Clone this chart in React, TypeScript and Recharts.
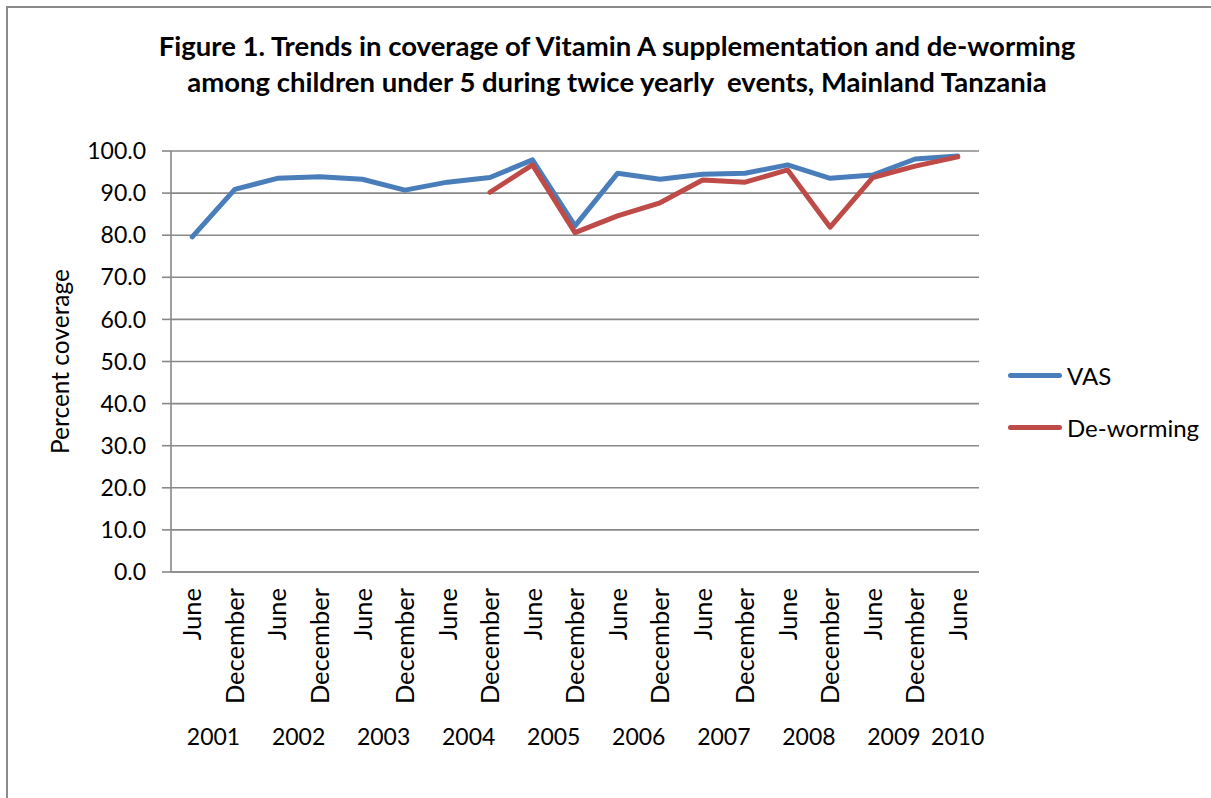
import { LineChart, Line, XAxis, YAxis, CartesianGrid } from 'recharts'

const months = ['June', 'December', 'June', 'December', 'June', 'December', 'June', 'December', 'June', 'December',
  'June', 'December', 'June', 'December', 'June', 'December', 'June', 'December', 'June']
const years = ['2001', '2001', '2002', '2002', '2003', '2003', '2004', '2004', '2005', '2005',
  '2006', '2006', '2007', '2007', '2008', '2008', '2009', '2009', '2010']
const vas = [79.6, 90.9, 93.5, 93.9, 93.3, 90.7, 92.6, 93.7, 97.9, 82.2, 94.7, 93.3, 94.5, 94.7, 96.7, 93.5, 94.3, 98.1, 98.8]
const deworming = [null, null, null, null, null, null, null, 90.2, 96.7, 80.6, 84.6, 87.7, 93.1, 92.6, 95.5, 81.9, 93.7, 96.4, 98.6]
const yTicks = [0, 10, 20, 30, 40, 50, 60, 70, 80, 90, 100]
const series = [
  { key: 'vas', name: 'VAS', color: '#4A7EBB' },
  { key: 'deworming', name: 'De-worming', color: '#BE4B48' },
]

const W = 1211
const H = 798
const m = { top: 151, right: 232, bottom: 46, left: 100 }
const yAxisW = 71
const band = (W - m.left - m.right - yAxisW) / months.length
const FONT = 'Lato, "Open Sans", sans-serif'
const GRID = '#888888'

const data = months.map((mo, i) => ({ key: mo + ' ' + years[i], month: mo, year: years[i], vas: vas[i], deworming: deworming[i] }))

function MonthTick(props: any) {
  const { x, y, index } = props
  const d = data[index]
  const last = index === data.length - 1
  const showYear = d.month === 'June'
  return (
    <g>
      <text x={x} y={y + 16} transform={`rotate(-90, ${x}, ${y + 16})`} textAnchor="end" dy="0.36em"
        fontSize={25.5} fill="#000" fontFamily={FONT}>{d.month}</text>
      {showYear && (
        <text x={last ? x : x + band / 2} y={y + 173} textAnchor="middle" fontSize={23} fill="#000" fontFamily={FONT}>{d.year}</text>
      )}
    </g>
  )
}

export default function App() {
  return (
    <div style={{ position: 'absolute', left: 0, top: 0, width: W, height: H, overflow: 'hidden', background: '#fff', fontFamily: FONT }}>
      <div style={{ position: 'absolute', left: 6, top: 6, width: W + 20, height: H + 20, border: '2px solid #8a8a8a' }} />
      <div style={{ position: 'absolute', left: 0, width: 1234, top: 28, textAlign: 'center', fontWeight: 700, fontSize: 27.5, lineHeight: '36px', color: '#000' }}>
        <div>Figure 1. Trends in coverage of Vitamin A supplementation and de-worming</div>
        <div style={{ whiteSpace: 'pre' }}>among children under 5 during twice yearly  events, Mainland Tanzania</div>
      </div>
      <div style={{ position: 'absolute', left: 0, top: 0 }}>
        <LineChart width={W} height={H} data={data} margin={m}>
          <CartesianGrid vertical={false} stroke={GRID} strokeWidth={1.6} />
          <XAxis dataKey="key" interval={0} tickLine={false} tickSize={0} tickMargin={0} height={180}
            padding={{ left: band / 2, right: band / 2 }}
            axisLine={{ stroke: GRID, strokeWidth: 1.6 }} tick={<MonthTick />} />
          <YAxis domain={[0, 100]} ticks={yTicks} interval={0} width={yAxisW} tickSize={9} tickMargin={16}
            tickFormatter={(v: number) => v.toFixed(1)} axisLine={{ stroke: GRID, strokeWidth: 1.6 }}
            tickLine={{ stroke: GRID, strokeWidth: 1.6 }} tick={{ fontSize: 23, fill: '#000', fontFamily: FONT }}
            label={{ value: 'Percent coverage', angle: -90, position: 'insideLeft', offset: 0, dx: -40, fontSize: 24.5, fill: '#000', fontFamily: FONT, style: { textAnchor: 'middle' } }} />
          {series.map((s) => (
            <Line key={s.key} type="linear" dataKey={s.key} name={s.name} stroke={s.color} strokeWidth={5} dot={false}
              strokeLinejoin="round" strokeLinecap="round" isAnimationActive={false} />
          ))}
        </LineChart>
      </div>
      <div style={{ position: 'absolute', left: 1008, top: 349, fontSize: 24, color: '#000' }}>
        {series.map((s) => (
          <div key={s.key} style={{ display: 'flex', alignItems: 'center', height: 52 }}>
            <div style={{ width: 54, height: 5, borderRadius: 3, background: s.color, marginRight: 5 }} />
            <span>{s.name}</span>
          </div>
        ))}
      </div>
    </div>
  )
}
